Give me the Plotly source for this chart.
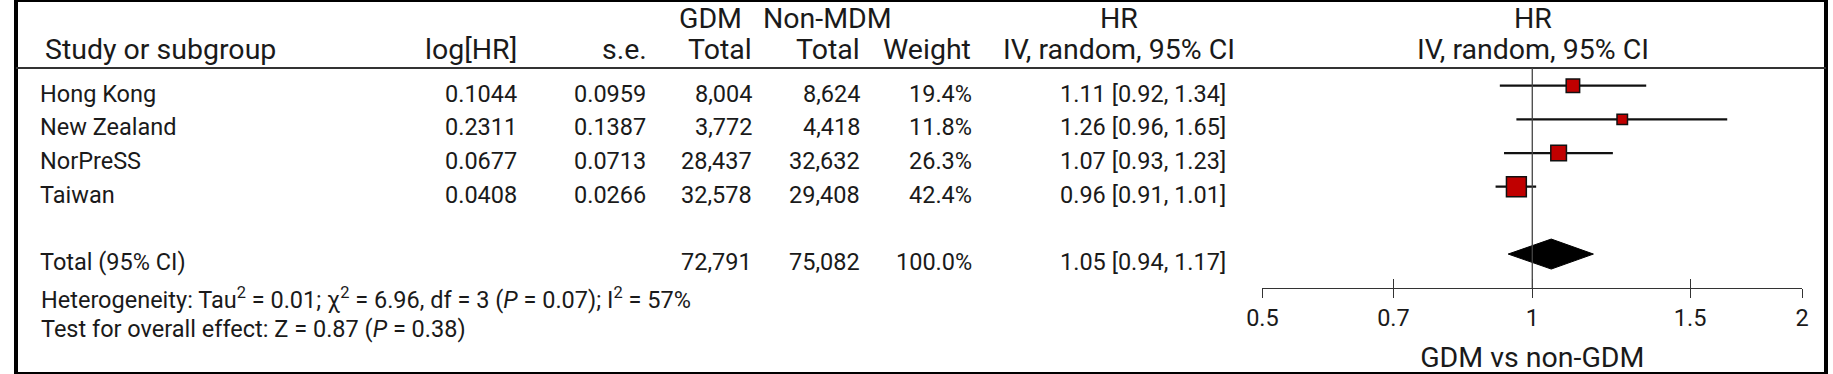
import plotly.graph_objects as go

# ---------------- data ----------------
studies = ["Hong Kong", "New Zealand", "NorPreSS", "Taiwan"]
log_hr = ["0.1044", "0.2311", "0.0677", "0.0408"]
se = ["0.0959", "0.1387", "0.0713", "0.0266"]
gdm_total = ["8,004", "3,772", "28,437", "32,578"]
non_total = ["8,624", "4,418", "32,632", "29,408"]
weight = [19.4, 11.8, 26.3, 42.4]
hr = [1.11, 1.26, 1.07, 0.96]
hr_lo = [0.92, 0.96, 0.93, 0.91]
hr_hi = [1.34, 1.65, 1.23, 1.01]
rows = [0, 1, 2, 3]

total_row = 5
total_label = "Total (95% CI)"
total_gdm = "72,791"
total_non = "75,082"
total_weight = 100.0
total_hr = 1.05
total_lo = 0.94
total_hi = 1.17

tick_vals = [0.5, 0.7, 1, 1.5, 2]
tick_text = ["0.5", "0.7", "1", "1.5", "2"]

heterogeneity = ("Heterogeneity: Tau<sup>2</sup> = 0.01; χ<sup>2</sup> = 6.96, df = 3 "
                 "(<i>P</i> = 0.07); I<sup>2</sup> = 57%")
overall = "Test for overall effect: Z = 0.87 (<i>P</i> = 0.38)"

# ---------------- layout constants ----------------
W, H = 1833, 374
FONT = "Roboto"
TXT = "#1a1a1a"
BODY = 23.5
HEAD = 28.5
ROW0_PX = 85.7
ROW_STEP = 33.67
PLOT_BOTTOM_PX = 288
HEADER_LINE_PX = 68


def px2row(p):
    return (p - ROW0_PX) / ROW_STEP


def px2paper_y(p):
    return (H - p) / H


def px2paper_x(p):
    return p / W


fig = go.Figure()

# CI lines
cx, cy = [], []
for lo, hi, r in zip(hr_lo, hr_hi, rows):
    cx += [lo, hi, None]
    cy += [r, r, None]
fig.add_trace(go.Scatter(x=cx, y=cy, mode="lines",
                         line=dict(color="#111111", width=2.2),
                         hoverinfo="skip", showlegend=False, cliponaxis=False))

# study squares (size ~ sqrt(weight))
fig.add_trace(go.Scatter(
    x=hr, y=rows, mode="markers",
    marker=dict(symbol="square", color="#c00000", opacity=1,
                size=[3.05 * w ** 0.5 for w in weight],
                line=dict(color="#111111", width=1.5)),
    showlegend=False, cliponaxis=False))

# pooled diamond
half = 15 / ROW_STEP
fig.add_trace(go.Scatter(
    x=[total_lo, total_hr, total_hi, total_hr, total_lo],
    y=[total_row, total_row - half, total_row, total_row + half, total_row],
    mode="lines", fill="toself", fillcolor="#000000",
    line=dict(color="#000000", width=1), showlegend=False, cliponaxis=False))

# second x axis to get ticks on both sides of the axis line
fig.add_trace(go.Scatter(x=[1], y=[0], xaxis="x2", mode="markers",
                         marker=dict(opacity=0), showlegend=False, hoverinfo="skip"))

x_dom = [px2paper_x(1262.3), px2paper_x(1808.8)]
fig.update_layout(
    width=W, height=H, autosize=False,
    margin=dict(l=0, r=0, t=0, b=0),
    paper_bgcolor="white", plot_bgcolor="white",
    font=dict(family=FONT, color=TXT, size=BODY),
    xaxis=dict(type="log", range=[-0.30103, 0.30103], domain=x_dom,
               anchor="y", showgrid=False, zeroline=False,
               showline=True, linecolor="#333333", linewidth=1.3,
               ticks="outside", ticklen=9, tickwidth=1.3, tickcolor="#333333",
               tickvals=tick_vals, ticktext=tick_text,
               tickfont=dict(size=BODY, color=TXT, family=FONT),
               ticklabelstandoff=0,
               title=dict(text="GDM vs non-GDM", standoff=20,
                          font=dict(size=HEAD, color=TXT, family=FONT))),
    xaxis2=dict(type="log", range=[-0.30103, 0.30103], domain=x_dom,
                overlaying="x", anchor="y", side="bottom", showgrid=False,
                zeroline=False, showline=False,
                ticks="inside", ticklen=9, tickwidth=1.3, tickcolor="#333333",
                tickvals=tick_vals, showticklabels=False),
    yaxis=dict(range=[px2row(PLOT_BOTTOM_PX), px2row(0)],
               domain=[px2paper_y(PLOT_BOTTOM_PX), 1],
               visible=False, showgrid=False, zeroline=False),
)

shapes = []
# outer frame
shapes.append(dict(type="rect", xref="paper", yref="paper", x0=0, x1=1, y0=0, y1=1,
                   line=dict(color="#000000", width=4)))
# header rule
shapes.append(dict(type="line", xref="paper", yref="paper", x0=0, x1=1,
                   y0=px2paper_y(HEADER_LINE_PX), y1=px2paper_y(HEADER_LINE_PX),
                   line=dict(color="#333333", width=1.8)))
# line of no effect
shapes.append(dict(type="line", xref="x", yref="paper", x0=1, x1=1,
                   y0=px2paper_y(PLOT_BOTTOM_PX), y1=px2paper_y(HEADER_LINE_PX),
                   line=dict(color="#444444", width=1.3)))
fig.update_layout(shapes=shapes)

ann = []
TEXT_SHIFT = -8


def col(text, x_px, r, anchor="right", size=BODY):
    ann.append(dict(text=text, xref="paper", yref="y", x=px2paper_x(x_px), y=r,
                    xanchor=anchor, yanchor="middle", yshift=TEXT_SHIFT, align=anchor,
                    borderpad=0, showarrow=False,
                    font=dict(size=size, color=TXT, family=FONT)))


def head(text, x_px, y_px, anchor):
    ann.append(dict(text=text, xref="paper", yref="paper", x=px2paper_x(x_px),
                    y=px2paper_y(y_px), xanchor=anchor, yanchor="middle", align=anchor,
                    borderpad=0, showarrow=False,
                    font=dict(size=HEAD, color=TXT, family=FONT)))


# headers
L1, L2 = 19, 50
head("Study or subgroup", 28, L2, "left")
head("log[HR]", 508, L2, "right")
head("s.e.", 640, L2, "right")
head("GDM", 670.5, L1, "left")
head("Total", 746, L2, "right")
head("Non-MDM", 755.5, L1, "left")
head("Total", 856, L2, "right")
head("Weight", 968, L2, "right")
head("HR", 1117, L1, "center")
head("IV, random, 95% CI", 1117, L2, "center")
head("HR", 1536, L1, "center")
head("IV, random, 95% CI", 1536, L2, "center")

# study rows
for i, r in enumerate(rows):
    col(studies[i], 23, r, anchor="left")
    col(log_hr[i], 508, r)
    col(se[i], 639.5, r)
    col(gdm_total[i], 746, r)
    col(non_total[i], 856, r)
    col(f"{weight[i]:.1f}%", 969, r)
    col(f"{hr[i]:.2f} [{hr_lo[i]:.2f}, {hr_hi[i]:.2f}]", 1226, r)

# total row
col(total_label, 23, total_row, anchor="left")
col(total_gdm, 746, total_row)
col(total_non, 856, total_row)
col(f"{total_weight:.1f}%", 969, total_row)
col(f"{total_hr:.2f} [{total_lo:.2f}, {total_hi:.2f}]", 1226, total_row)

# footnotes
for text, yp in [(heterogeneity, 298), (overall, 329)]:
    ann.append(dict(text=text, xref="paper", yref="paper", x=px2paper_x(24),
                    y=px2paper_y(yp), xanchor="left", yanchor="middle", align="left",
                    borderpad=0, showarrow=False,
                    font=dict(size=BODY, color=TXT, family=FONT)))

fig.update_layout(annotations=ann)

fig.write_html("out.html", config={"displayModeBar": False},
               post_script="document.body.style.margin='0';document.body.style.overflow='hidden';")
